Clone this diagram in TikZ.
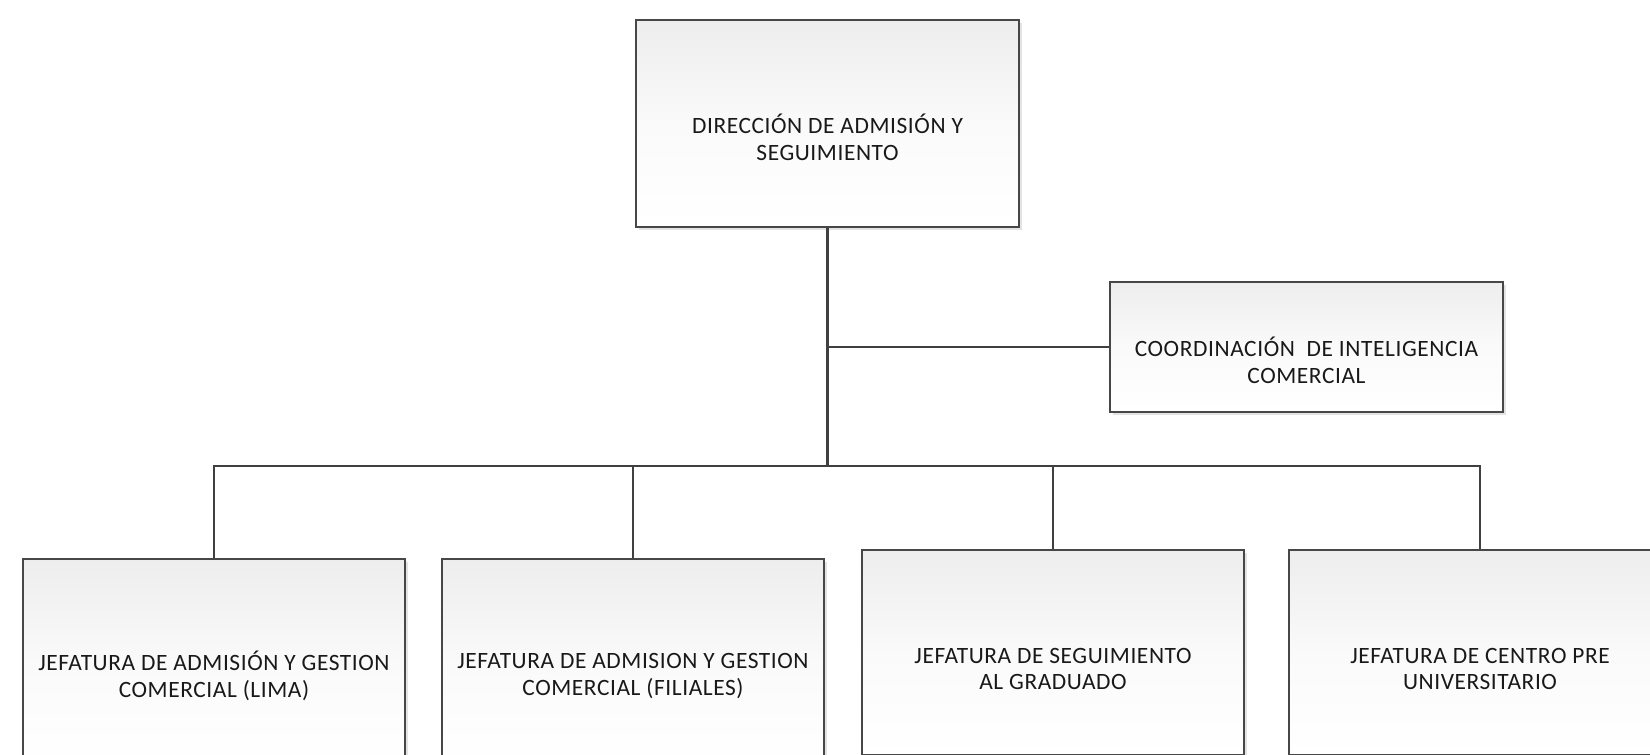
\documentclass[tikz,border=0pt]{standalone}
\usepackage{fontspec}
\setmainfont{Carlito}[LetterSpace=2.5]
\usetikzlibrary{shadows}
\begin{document}
\begin{tikzpicture}[x=0.5pt,y=-0.5pt,
  orgbox/.style={draw=black!72, line width=0.75pt, rectangle, inner sep=0pt,
    top color=black!7, bottom color=white, middle color=black!2,
    drop shadow={shadow xshift=1.5pt, shadow yshift=-1.5pt, opacity=0.18, fill=black!60}},
  lbl/.style={align=center, inner sep=0pt, font=\fontsize{11.7}{13.4}\selectfont, text=black!90},
  conn/.style={draw=black!75, line width=1.3pt}
]
\clip (0,0) rectangle (1650,755);
\useasboundingbox (0,0) rectangle (1650,755);
\fill[white] (0,0) rectangle (1650,755);

\node[orgbox, minimum width=191.5pt, minimum height=103.5pt] (top) at (827.5,123.5) {};
\node[orgbox, minimum width=196.5pt, minimum height=65pt] (coord) at (1306.5,347) {};
\node[orgbox, minimum width=191pt, minimum height=102.5pt] (b1) at (214,661.5) {};
\node[orgbox, minimum width=191pt, minimum height=102.5pt] (b2) at (633,661.5) {};
\node[orgbox, minimum width=191pt, minimum height=102.5pt] (b3) at (1053,652.5) {};
\node[orgbox, minimum width=191pt, minimum height=102.5pt] (b4) at (1480,652.5) {};

\node[lbl] (ttop) at (827.5,137) {DIRECCIÓN DE ADMISIÓN Y\\SEGUIMIENTO};
\node[lbl] (tcoord) at (1306.5,360) {COORDINACIÓN \ DE INTELIGENCIA\\COMERCIAL};
\node[lbl] (tb1) at (214,676) {JEFATURA DE ADMISIÓN Y GESTION\\COMERCIAL (LIMA)};
\node[lbl] (tb2) at (633,676) {JEFATURA DE ADMISION Y GESTION\\COMERCIAL (FILIALES)};
\node[lbl] (tb3) at (1053,669) {JEFATURA DE SEGUIMIENTO\\AL GRADUADO};
\node[lbl] (tb4) at (1480,669) {JEFATURA DE CENTRO PRE\\UNIVERSITARIO};

\coordinate (bus) at (827.5,466);
\draw[conn] (top.south) -- (bus);
\draw[conn] (top.south |- coord.west) -- (coord.west);
\draw[conn] (b1.north) |- (b4.north |- bus) -- (b4.north);
\draw[conn] (b2.north) -- (b2.north |- bus);
\draw[conn] (b3.north) -- (b3.north |- bus);
\end{tikzpicture}
\end{document}
